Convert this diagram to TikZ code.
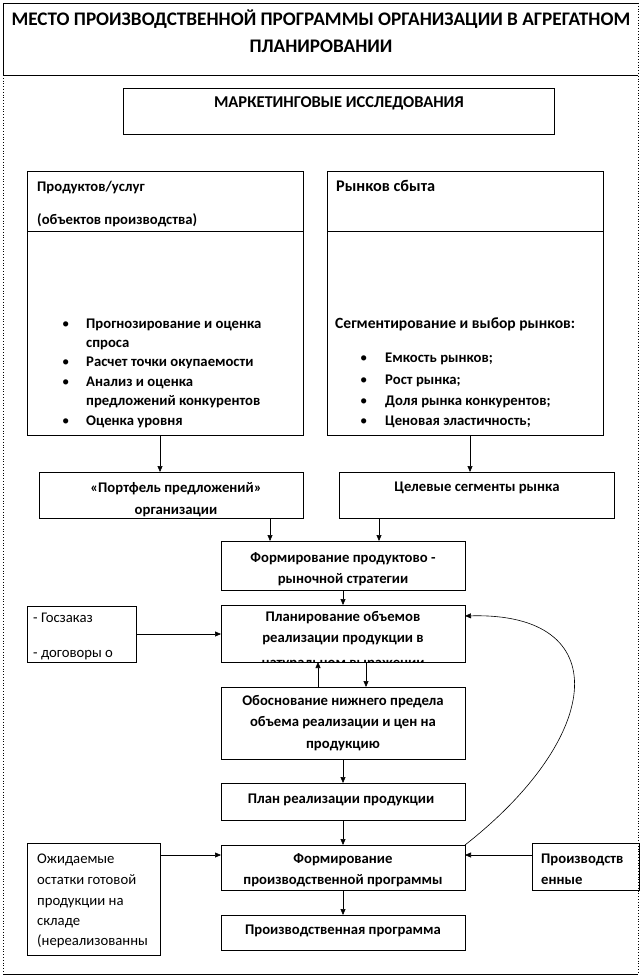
\documentclass[tikz,border=0pt]{standalone}
\usepackage{fontspec}
\setmainfont{Carlito}
\usetikzlibrary{arrows.meta}
\begin{document}
\begin{tikzpicture}[x=1pt,y=-1pt,
  box/.style={draw=black,line width=0.8pt,anchor=north west,inner sep=0pt,outer sep=0pt},
  arr/.style={line width=0.6pt,-{Triangle[length=6pt,width=5pt]}},
  txt/.style={anchor=base,inner sep=0pt,font=\fontsize{14.7}{19}\selectfont},
  btxt/.style={anchor=base,inner sep=0pt,font=\fontsize{14.7}{19}\selectfont\bfseries},
  ltxt/.style={txt,anchor=base west},
  lbtxt/.style={btxt,anchor=base west},
  frame/.style={line width=0.8pt},
  dframe/.style={line width=0.8pt,dotted}
]
\useasboundingbox (0,0) rectangle (642,976);
% frame
\draw[frame] (3,75) -- (3,3) -- (638,3);
\draw[frame] (3,75) -- (638,75);
\draw[dframe] (638,3) -- (638,974);
\draw[dframe] (3,75) -- (3,974);
\draw[frame] (3,974) -- (638,974);
\node[btxt,font=\fontsize{19.2}{27}\selectfont\bfseries] (t1) at (321,26) {МЕСТО ПРОИЗВОДСТВЕННОЙ ПРОГРАММЫ ОРГАНИЗАЦИИ В АГРЕГАТНОМ};
\node[btxt,font=\fontsize{19.2}{27}\selectfont\bfseries] (t2) at (321,53) {ПЛАНИРОВАНИИ};

% boxes
\node[box,minimum width=431pt,minimum height=46pt] (mark) at (123,88) {};
\node[box,minimum width=276pt,minimum height=264pt] (prod) at (27,171) {};
\node[box,minimum width=276pt,minimum height=264pt] (mkt) at (327,171) {};
\node[box,minimum width=264pt,minimum height=46pt] (port) at (39,472) {};
\node[box,minimum width=275pt,minimum height=46pt] (targ) at (339,472) {};
\node[box,minimum width=244pt,minimum height=49pt] (strat) at (221,541) {};
\node[box,minimum width=244pt,minimum height=57pt] (plan) at (221,605) {};
\node[box,minimum width=109pt,minimum height=56pt] (gos) at (27,606) {};
\node[box,minimum width=244pt,minimum height=72pt] (just) at (221,687) {};
\node[box,minimum width=244pt,minimum height=37pt] (real) at (221,783) {};
\node[box,minimum width=244pt,minimum height=45pt] (form) at (221,845) {};
\node[box,minimum width=244pt,minimum height=35pt] (prog) at (221,915) {};
\node[box,minimum width=133pt,minimum height=112pt] (rest) at (27,843) {};
\node[box,minimum width=107pt,minimum height=47pt] (prodr) at (532,843) {};
\draw[line width=0.8pt] (27,231) -- (303,231);
\draw[line width=0.8pt] (327,231) -- (603,231);

% texts
\node[btxt,font=\fontsize{16.5}{19}\selectfont\bfseries] (m1) at (339,108) {МАРКЕТИНГОВЫЕ ИССЛЕДОВАНИЯ};
\node[lbtxt] (p1) at (37,192) {Продуктов/услуг};
\begin{scope}
\clip (27,171) rectangle (303,230);
\node[lbtxt] (p2) at (37,225) {(объектов производства)};
\end{scope}
\foreach \y in {328,366,386,425} \node[ltxt] at (62,\y) {•};
\node[lbtxt] (pb1) at (86,328) {Прогнозирование и оценка};
\node[lbtxt] (pb2) at (86,347) {спроса};
\node[lbtxt] (pb3) at (86,366) {Расчет точки окупаемости};
\node[lbtxt] (pb4) at (86,386) {Анализ и оценка};
\node[lbtxt] (pb5) at (86,405) {предложений конкурентов};
\node[lbtxt] (pb6) at (86,425) {Оценка уровня};

\node[lbtxt,font=\fontsize{16.3}{19}\selectfont\bfseries] (r1) at (336,192) {Рынков сбыта};
\node[lbtxt,font=\fontsize{15.6}{19}\selectfont\bfseries] (r2) at (335,328) {Сегментирование и выбор рынков:};
\foreach \y in {362,384,405,425} \node[ltxt] at (360,\y) {•};
\node[lbtxt] (rb1) at (385,362) {Емкость рынков;};
\node[lbtxt] (rb2) at (385,384) {Рост рынка;};
\node[lbtxt] (rb3) at (385,405) {Доля рынка конкурентов;};
\node[lbtxt] (rb4) at (385,425) {Ценовая эластичность;};

\node[btxt] (po1) at (176,492) {«Портфель предложений»};
\node[btxt] (po2) at (176,514) {организации};
\node[btxt] (ta1) at (477,491) {Целевые сегменты рынка};
\node[btxt] (st1) at (343,562) {Формирование продуктово -};
\node[btxt] (st2) at (343,583) {рыночной стратегии};
\node[btxt] (pl1) at (343,621) {Планирование объемов};
\node[btxt] (pl2) at (343,642) {реализации продукции в};
\begin{scope}
\clip (221,605) rectangle (465,661.5);
\node[btxt] (pl3) at (343,667.5) {натуральном выражении};
\end{scope}
\node[ltxt] (g1) at (33,622) {- Госзаказ};
\node[ltxt] (g2) at (33,657) {- договоры о};
\node[btxt] (j1) at (343,705) {Обоснование нижнего предела};
\node[btxt] (j2) at (343,726) {объема реализации и цен на};
\node[btxt] (j3) at (343,748) {продукцию};
\node[btxt] (re1) at (341,803) {План реализации продукции};
\node[btxt] (f1) at (343,863) {Формирование};
\node[btxt] (f2) at (343,884) {производственной программы};
\node[btxt] (pg1) at (343,934) {Производственная программа};
\node[ltxt] (o1) at (37,863) {Ожидаемые};
\node[ltxt] (o2) at (37,884) {остатки готовой};
\node[ltxt] (o3) at (37,905) {продукции на};
\node[ltxt] (o4) at (37,925) {складе};
\node[ltxt] (o5) at (37,945) {(нереализованны};
\node[lbtxt] (pr1) at (541,863) {Производств};
\node[lbtxt] (pr2) at (541,884) {енные};

% connectors
\coordinate (cA) at (160,0);
\coordinate (cB) at (470,0);
\coordinate (cC) at (270,0);
\coordinate (cD) at (379,0);
\coordinate (cE) at (318,0);
\coordinate (cF) at (366,0);
\coordinate (cG) at (0,855);
\coordinate (cH) at (0,616);
\draw[arr] (prod.south -| cA) -- (port.north -| cA);
\draw[arr] (mkt.south -| cB) -- (targ.north -| cB);
\draw[arr] (port.south -| cC) -- (strat.north -| cC);
\draw[arr] (targ.south -| cD) -- (strat.north -| cD);
\draw[arr] (strat.south) -- (plan.north);
\draw[arr] (gos.east) -- (gos.east -| plan.west);
\draw[arr] (just.north -| cE) -- (plan.south -| cE);
\draw[arr] (plan.south -| cF) -- (just.north -| cF);
\draw[arr] (just.south) -- (real.north);
\draw[arr] (real.south) -- (form.north);
\draw[arr] (form.south) -- (prog.north);
\draw[arr] (rest.east |- cG) -- (form.west |- cG);
\draw[arr] (prodr.west |- cG) -- (form.east |- cG);
\draw[arr] (form.north east) .. controls (605,735) and (615,612) .. (plan.east |- cH);
\end{tikzpicture}
\end{document}
